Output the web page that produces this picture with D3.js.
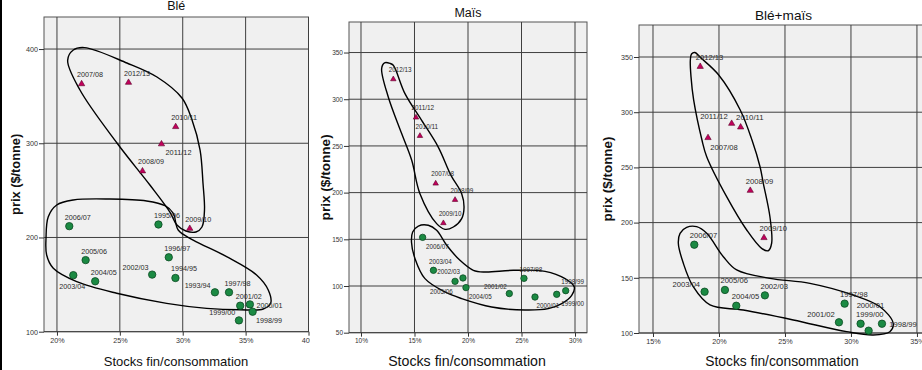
<!DOCTYPE html>
<html>
<head>
<meta charset="utf-8">
<script src="https://cdn.jsdelivr.net/npm/d3@7"></script>
<style>
  html, body { margin: 0; padding: 0; background: #fff; }
  svg { display: block; font-family: Arial, "Liberation Sans", sans-serif; }
</style>
</head>
<body>
<svg id="chart" width="922" height="370"></svg>
<script>
// seasons of the high price period (drawn as triangles)
const saisonsHautes = ['2007/08', '2008/09', '2009/10', '2010/11', '2011/12', '2012/13'];

// Blé
const bleSaisons = ['2007/08', '2012/13', '2010/11', '2011/12', '2008/09', '2009/10', '2006/07', '1995/96', '2005/06', '1996/97',
  '2003/04', '2004/05', '2002/03', '1994/95', '1993/94', '1997/98', '2001/02', '2000/01', '1998/99', '1999/00'];
const bleStocks = [21.96, 25.69, 29.44, 28.31, 26.8, 30.56, 20.98, 28.07, 22.28, 28.89,
  21.3, 23.04, 27.57, 29.42, 32.56, 33.68, 34.57, 35.34, 35.56, 34.47];
const blePrix = [363.5, 365, 318, 299.7, 271, 210, 212, 213.8, 176, 179,
  160, 153.5, 160.6, 157, 141.8, 141.8, 127.6, 129, 121.2, 112];

// Maïs
const maisSaisons = ['2012/13', '2011/12', '2010/11', '2007/08', '2008/09', '2009/10', '2006/07', '2003/04', '2002/03', '2005/06',
  '2004/05', '2001/02', '1997/98', '2000/01', '1999/00', '1998/99'];
const maisStocks = [13.02, 15.14, 15.51, 16.98, 18.79, 17.7, 15.76, 16.77, 19.53, 18.79,
  19.81, 23.86, 25.23, 26.26, 28.29, 29.13];
const maisPrix = [322, 281, 261.3, 210.3, 192.8, 167.9, 152.1, 116.8, 108.6, 105,
  98.3, 91.9, 108.2, 88.2, 91.1, 95];

// Blé+maïs
const mixSaisons = ['2012/13', '2011/12', '2010/11', '2007/08', '2008/09', '2009/10', '2006/07', '2003/04', '2005/06', '2004/05',
  '2002/03', '1997/98', '2001/02', '1999/00', '2000/01', '1998/99'];
const mixStocks = [18.58, 20.96, 21.64, 19.17, 22.37, 23.41, 18.13, 18.91, 20.45, 21.31,
  23.48, 29.52, 29.09, 30.73, 31.34, 32.35];
const mixPrix = [341.8, 290.2, 286.9, 277.3, 229.5, 186.7, 180, 137.4, 139, 124.7,
  134.1, 126.6, 109.7, 108.4, 102.1, 108.4];

// tick values
const bleXTicks = [20, 25, 30, 35, 40];
const bleYTicks = [100, 200, 300, 400];
const maisXTicks = [10, 15, 20, 25, 30];
const maisYTicks = [50, 100, 150, 200, 250, 300, 350];
const mixXTicks = [15, 20, 25, 30, 35];
const mixYTicks = [100, 150, 200, 250, 300, 350];

// hand drawn groupings, in data units [stocks %, prix]
const bleContourHaut = [[20.85, 388], [21.3, 399], [22.2, 401.5], [25.56, 385.2], [27.95, 370.3], [29.94, 348], [30.74, 324.7],
  [31.38, 292.8], [31.61, 257.8], [31.73, 229.2], [31.53, 211.1], [31.05, 205.8], [30.25, 206.9], [29.54, 213.2], [28.98, 227],
  [27.39, 255.7], [24.77, 300.3], [21.83, 356.5]];
const bleContourBas = [[19.13, 199.1], [19.31, 222], [19.98, 234.5], [21.3, 239.8], [24.21, 240.8], [27.13, 238.7], [28.59, 233.7],
  [29.25, 225.6], [29.64, 207.9], [30.83, 197.3], [33.49, 179.6], [35.87, 160.2], [36.8, 144.3], [36.99, 130.1], [36.4, 124.1],
  [34.55, 123.3], [31.9, 124.8], [28.72, 130.1], [24.75, 140.8], [21.57, 153.1], [19.71, 167.3], [19.18, 181.4]];
const maisContourHaut = [[11.93, 332.8], [12.2, 339], [12.71, 338.4], [13.02, 336.3], [14.11, 306], [15.67, 277.4], [17.22, 248.8],
  [18.41, 218.5], [19.41, 198.9], [19.63, 184.6], [19.41, 172.2], [18.63, 163.2], [17.85, 160.7], [17.07, 166.8], [15.51, 198.9],
  [14.74, 234.6], [13.8, 263.2], [12.55, 302.4]];
const maisContourBas = [[14.83, 157.8], [15.36, 164.2], [16.29, 165], [17.07, 159.6], [18.01, 143.6], [19.25, 127.5], [20.5, 116.8],
  [21.59, 115], [24.23, 116.8], [27.2, 115.7], [29.07, 107.9], [29.93, 98.9], [29.69, 90], [28.76, 81.2], [27.5, 75.8], [25.33, 74.3],
  [22.21, 77.5], [19.41, 86.5], [17.85, 93.6], [15.98, 107.9], [15.05, 129.3], [14.72, 146.8]];
const mixContourHaut = [[17.92, 352.7], [18.18, 354.1], [18.58, 349.7], [19.98, 333.7], [21.61, 302], [22.5, 274.8], [23.11, 250.6],
  [23.36, 235.6], [23.86, 205.3], [23.99, 181.3], [23.73, 174.5], [23.23, 176.7], [22.1, 193.3], [20.58, 223.5], [19.07, 259.7],
  [18.71, 274.8], [18.08, 311.1], [17.88, 332.2], [17.83, 347.3]];
const mixContourBas = [[17.05, 190.3], [17.55, 195.7], [18.31, 196.3], [19.07, 190.3], [20.33, 169.1], [21.34, 157.1], [23.86, 149.5],
  [26.89, 145], [30.17, 134.4], [32.2, 123.8], [33.2, 108.8], [32.95, 101.2], [31.69, 98.2], [29.67, 101.2], [25.63, 111.8],
  [21.84, 120.8], [19.32, 125.4], [18.05, 141.9], [17.3, 163.1], [16.92, 181.3]];

// label placement (pixel offset of the label start from the point), default is up-left
const labelDefaut = [-4.5, -6.5];
const bleLabelPos = { '2011/12': [4, 11], '2003/04': [-14, 13.4], '2002/03': [-29.6, -5], '1993/94': [-30.3, -4.4],
  '2000/01': [6.7, 4], '1999/00': [-29.7, -5.3], '1998/99': [3.3, 11.6] };
const maisLabelPos = { '2006/07': [3.3, 11.3], '2002/03': [-25.7, -4.4], '2005/06': [-25, 12.3], '2004/05': [3, 11.7],
  '2001/02': [-25.3, -5], '2000/01': [1.5, 11], '1999/00': [4.5, 11.7] };
const mixLabelPos = { '2011/12': [-31.4, -4.3], '2007/08': [2.3, 12.7], '2003/04': [-32, -5], '2001/02': [-31.7, -5.6],
  '2000/01': [-12, -23], '1998/99': [7.3, 3] };

const panels = [
  {
    title: 'Blé', saisons: bleSaisons, stocks: bleStocks, prix: blePrix, xTicks: bleXTicks, yTicks: bleYTicks,
    contours: [bleContourHaut, bleContourBas], labelPos: bleLabelPos,
    box: { l: 44, r: 308.5, t: 17, b: 331.7 }, xDomain: [18.97, 40], yDomain: [100, 434],
    titleY: 10, xTitleX: 176, yTitleX: 20, fs: { tick: 7.2, title: 12.5, xTitle: 13, yTitle: 12.8, lab: 26 },
    r: 3.7, tri: 17, clipRight: 310,
  },
  {
    title: 'Maïs', saisons: maisSaisons, stocks: maisStocks, prix: maisPrix, xTicks: maisXTicks, yTicks: maisYTicks,
    contours: [maisContourHaut, maisContourBas], labelPos: maisLabelPos,
    box: { l: 349, r: 587, t: 22, b: 332.7 }, xDomain: [8.88, 31.12], yDomain: [50, 382.7],
    titleY: 17, xTitleX: 467, yTitleX: 330, fs: { tick: 6.5, title: 12.5, xTitle: 14.2, yTitle: 13.6, lab: 22.7 },
    r: 3.2, tri: 13,
  },
  {
    title: 'Blé+maïs', saisons: mixSaisons, stocks: mixStocks, prix: mixPrix, xTicks: mixXTicks, yTicks: mixYTicks,
    contours: [mixContourHaut, mixContourBas], labelPos: mixLabelPos,
    box: { l: 639, r: 925, t: 25, b: 333 }, xDomain: [13.94, 35.61], yDomain: [100, 379],
    titleY: 20, xTitleX: 782, yTitleX: 612, fs: { tick: 7.2, title: 13.6, xTitle: 13.8, yTitle: 13.4, lab: 27.5 },
    r: 3.7, tri: 17,
  },
];

const svg = d3.select('#chart');

// thin black frame at the left border of the picture
svg.append('rect').attr('x', 0).attr('y', 0).attr('width', 2).attr('height', 370).attr('fill', '#000');

const defs = svg.append('defs');

panels.forEach((p, i) => {
  const g = svg.append('g');
  if (p.clipRight) {
    defs.append('clipPath').attr('id', 'clip' + i)
      .append('rect').attr('x', 0).attr('y', 0).attr('width', p.clipRight).attr('height', 370);
    g.attr('clip-path', `url(#clip${i})`);
  }

  const x = d3.scaleLinear().domain(p.xDomain).range([p.box.l, p.box.r]);
  const y = d3.scaleLinear().domain(p.yDomain).range([p.box.b, p.box.t]);

  g.append('rect')
    .attr('x', p.box.l).attr('y', p.box.t)
    .attr('width', p.box.r - p.box.l).attr('height', p.box.b - p.box.t)
    .attr('fill', '#f0f0f0').attr('stroke', '#555').attr('stroke-width', 1);

  // grid lines
  g.selectAll('.gx').data(p.xTicks).enter().append('line')
    .attr('class', 'gx')
    .attr('x1', d => x(d)).attr('x2', d => x(d))
    .attr('y1', p.box.t).attr('y2', p.box.b)
    .attr('stroke', '#3f3f3f').attr('stroke-width', 1);
  g.selectAll('.gy').data(p.yTicks).enter().append('line')
    .attr('class', 'gy')
    .attr('x1', p.box.l).attr('x2', p.box.r)
    .attr('y1', d => y(d)).attr('y2', d => y(d))
    .attr('stroke', '#3f3f3f').attr('stroke-width', 1);

  // axes
  const yAxis = g.append('g')
    .attr('transform', `translate(${p.box.l},0)`)
    .call(d3.axisLeft(y).tickValues(p.yTicks).tickSize(5).tickPadding(1));
  const xAxis = g.append('g')
    .attr('transform', `translate(0,${p.box.b})`)
    .call(d3.axisBottom(x).tickValues(p.xTicks).tickFormat(d => d + '%').tickSize(4).tickPadding(2));
  [xAxis, yAxis].forEach(a => {
    a.select('.domain').remove();
    a.selectAll('.tick line').attr('stroke', '#333');
    a.selectAll('.tick text').attr('fill', '#333').attr('font-size', p.fs.tick + 'px').attr('font-family', 'Arial, "Liberation Sans", sans-serif');
  });

  // groupings
  const contourLine = d3.line()
    .x(d => x(d[0]))
    .y(d => y(d[1]))
    .curve(d3.curveCatmullRomClosed.alpha(0.5));
  g.selectAll('.contour').data(p.contours).enter().append('path')
    .attr('class', 'contour')
    .attr('d', contourLine)
    .attr('fill', 'none').attr('stroke', '#000').attr('stroke-width', 1.4);

  const pts = p.saisons.map((s, k) => ({ saison: s, stock: p.stocks[k], prix: p.prix[k], haut: saisonsHautes.includes(s) }));

  // points
  g.selectAll('.circ').data(pts.filter(d => !d.haut)).enter().append('circle')
    .attr('class', 'circ')
    .attr('cx', d => x(d.stock)).attr('cy', d => y(d.prix))
    .attr('r', p.r)
    .attr('fill', '#1b8a43').attr('stroke', '#0b4a22').attr('stroke-width', 0.8);
  const tri = d3.symbol().type(d3.symbolTriangle).size(p.tri);
  g.selectAll('.tri').data(pts.filter(d => d.haut)).enter().append('path')
    .attr('class', 'tri')
    .attr('transform', d => `translate(${x(d.stock)},${y(d.prix) + 0.5})`)
    .attr('d', tri)
    .attr('fill', '#c2005c').attr('stroke', '#5c0028').attr('stroke-width', 0.6);

  // season labels
  g.selectAll('.lab').data(pts).enter().append('text')
    .attr('class', 'lab')
    .attr('x', d => x(d.stock) + (p.labelPos[d.saison] || labelDefaut)[0])
    .attr('y', d => y(d.prix) + (p.labelPos[d.saison] || labelDefaut)[1])
    .attr('font-size', '8px')
    .attr('textLength', p.fs.lab)
    .attr('lengthAdjust', 'spacingAndGlyphs')
    .attr('fill', '#2a2a2a')
    .text(d => d.saison);

  // titles
  g.append('text')
    .attr('x', (p.box.l + Math.min(p.box.r, 922)) / 2 + (i === 2 ? 3 : 0)).attr('y', p.titleY)
    .attr('text-anchor', 'middle').attr('font-size', p.fs.title + 'px').attr('fill', '#111')
    .text(p.title);
  g.append('text')
    .attr('x', p.xTitleX).attr('y', 366)
    .attr('text-anchor', 'middle').attr('font-size', p.fs.xTitle + 'px').attr('fill', '#111')
    .text('Stocks fin/consommation');
  g.append('text')
    .attr('transform', `translate(${p.yTitleX},${(p.box.t + p.box.b) / 2}) rotate(-90)`)
    .attr('text-anchor', 'middle').attr('font-size', p.fs.yTitle + 'px').attr('font-weight', 'bold').attr('fill', '#111')
    .text('prix ($/tonne)');
});
</script>
</body>
</html>
